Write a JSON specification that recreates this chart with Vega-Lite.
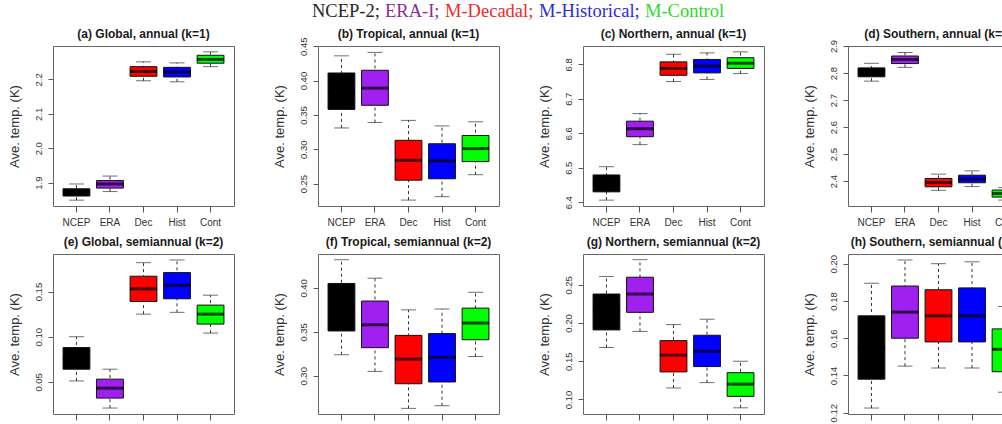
{
  "$schema": "https://vega.github.io/schema/vega-lite/v6.json",
  "padding": {"left": 7, "top": 2, "right": 0, "bottom": 0},
  "background": "white",
  "datasets": {
    "boxes": [
      {"panel": "a", "model": "NCEP", "lo": 1.849, "q1": 1.861, "med": 1.873, "q3": 1.882, "hi": 1.896},
      {"panel": "a", "model": "ERA", "lo": 1.874, "q1": 1.884, "med": 1.896, "q3": 1.906, "hi": 1.919},
      {"panel": "a", "model": "Dec", "lo": 2.196, "q1": 2.209, "med": 2.223, "q3": 2.237, "hi": 2.251},
      {"panel": "a", "model": "Hist", "lo": 2.193, "q1": 2.207, "med": 2.221, "q3": 2.235, "hi": 2.248},
      {"panel": "a", "model": "Cont", "lo": 2.237, "q1": 2.247, "med": 2.258, "q3": 2.270, "hi": 2.280},
      {"panel": "b", "model": "NCEP", "lo": 0.331, "q1": 0.358, "med": 0.383, "q3": 0.411, "hi": 0.436},
      {"panel": "b", "model": "ERA", "lo": 0.339, "q1": 0.364, "med": 0.389, "q3": 0.415, "hi": 0.441},
      {"panel": "b", "model": "Dec", "lo": 0.226, "q1": 0.255, "med": 0.284, "q3": 0.313, "hi": 0.342},
      {"panel": "b", "model": "Hist", "lo": 0.231, "q1": 0.257, "med": 0.283, "q3": 0.308, "hi": 0.334},
      {"panel": "b", "model": "Cont", "lo": 0.263, "q1": 0.282, "med": 0.301, "q3": 0.320, "hi": 0.340},
      {"panel": "c", "model": "NCEP", "lo": 6.406, "q1": 6.430, "med": 6.455, "q3": 6.479, "hi": 6.503},
      {"panel": "c", "model": "ERA", "lo": 6.567, "q1": 6.590, "med": 6.613, "q3": 6.635, "hi": 6.657},
      {"panel": "c", "model": "Dec", "lo": 6.750, "q1": 6.768, "med": 6.788, "q3": 6.807, "hi": 6.829},
      {"panel": "c", "model": "Hist", "lo": 6.756, "q1": 6.775, "med": 6.795, "q3": 6.814, "hi": 6.833},
      {"panel": "c", "model": "Cont", "lo": 6.773, "q1": 6.788, "med": 6.803, "q3": 6.819, "hi": 6.836},
      {"panel": "d", "model": "NCEP", "lo": 2.770, "q1": 2.786, "med": 2.805, "q3": 2.819, "hi": 2.836},
      {"panel": "d", "model": "ERA", "lo": 2.821, "q1": 2.835, "med": 2.850, "q3": 2.863, "hi": 2.876},
      {"panel": "d", "model": "Dec", "lo": 2.366, "q1": 2.379, "med": 2.395, "q3": 2.410, "hi": 2.426},
      {"panel": "d", "model": "Hist", "lo": 2.380, "q1": 2.394, "med": 2.407, "q3": 2.422, "hi": 2.438},
      {"panel": "d", "model": "Cont", "lo": 2.330, "q1": 2.341, "med": 2.354, "q3": 2.367, "hi": 2.376},
      {"panel": "e", "model": "NCEP", "lo": 0.051, "q1": 0.064, "med": 0.075, "q3": 0.088, "hi": 0.100},
      {"panel": "e", "model": "ERA", "lo": 0.021, "q1": 0.032, "med": 0.043, "q3": 0.053, "hi": 0.064},
      {"panel": "e", "model": "Dec", "lo": 0.125, "q1": 0.139, "med": 0.153, "q3": 0.167, "hi": 0.182},
      {"panel": "e", "model": "Hist", "lo": 0.127, "q1": 0.142, "med": 0.157, "q3": 0.171, "hi": 0.185},
      {"panel": "e", "model": "Cont", "lo": 0.104, "q1": 0.114, "med": 0.125, "q3": 0.135, "hi": 0.146},
      {"panel": "f", "model": "NCEP", "lo": 0.324, "q1": 0.351, "med": 0.378, "q3": 0.405, "hi": 0.432},
      {"panel": "f", "model": "ERA", "lo": 0.305, "q1": 0.332, "med": 0.358, "q3": 0.385, "hi": 0.411},
      {"panel": "f", "model": "Dec", "lo": 0.263, "q1": 0.291, "med": 0.319, "q3": 0.346, "hi": 0.375},
      {"panel": "f", "model": "Hist", "lo": 0.266, "q1": 0.293, "med": 0.321, "q3": 0.348, "hi": 0.376},
      {"panel": "f", "model": "Cont", "lo": 0.322, "q1": 0.341, "med": 0.360, "q3": 0.377, "hi": 0.395},
      {"panel": "g", "model": "NCEP", "lo": 0.168, "q1": 0.191, "med": 0.215, "q3": 0.238, "hi": 0.261},
      {"panel": "g", "model": "ERA", "lo": 0.189, "q1": 0.214, "med": 0.238, "q3": 0.260, "hi": 0.283},
      {"panel": "g", "model": "Dec", "lo": 0.115, "q1": 0.136, "med": 0.158, "q3": 0.177, "hi": 0.198},
      {"panel": "g", "model": "Hist", "lo": 0.122, "q1": 0.143, "med": 0.163, "q3": 0.184, "hi": 0.205},
      {"panel": "g", "model": "Cont", "lo": 0.089, "q1": 0.104, "med": 0.120, "q3": 0.135, "hi": 0.150},
      {"panel": "h", "model": "NCEP", "lo": 0.1225, "q1": 0.138, "med": 0.155, "q3": 0.172, "hi": 0.1895},
      {"panel": "h", "model": "ERA", "lo": 0.145, "q1": 0.160, "med": 0.174, "q3": 0.188, "hi": 0.202},
      {"panel": "h", "model": "Dec", "lo": 0.144, "q1": 0.158, "med": 0.172, "q3": 0.186, "hi": 0.200},
      {"panel": "h", "model": "Hist", "lo": 0.144, "q1": 0.158, "med": 0.172, "q3": 0.187, "hi": 0.201},
      {"panel": "h", "model": "Cont", "lo": 0.131, "q1": 0.142, "med": 0.154, "q3": 0.165, "hi": 0.177}
    ]
  },
  "data": {"name": "boxes"},
  "columns": 4,
  "bounds": "flush",
  "spacing": {"row": 48, "column": 84},
  "concat": [
    {
      "title": "(a) Global, annual (k=1)",
      "width": 181, "height": 160,
      "transform": [{"filter": "datum.panel === 'a'"}],
      "encoding": {"x": {"field": "model", "type": "nominal", "sort": ["NCEP", "ERA", "Dec", "Hist", "Cont"], "scale": {"paddingInner": 0.2, "paddingOuter": 0.3}, "axis": {"title": null}}},
      "layer": [
        {"mark": {"type": "rule", "strokeDash": [3, 3], "color": "#333"}, "encoding": {"y": {"field": "lo", "type": "quantitative", "title": "Ave. temp. (K)", "scale": {"domain": [1.832, 2.297], "nice": false, "zero": false}, "axis": {"values": [1.9, 2.0, 2.1, 2.2], "tickCount": 10, "format": ".1f", "labelOverlap": false}}, "y2": {"field": "hi"}}},
        {"mark": {"type": "tick", "size": 15, "thickness": 1, "color": "#333"}, "encoding": {"y": {"field": "lo", "type": "quantitative", "title": "Ave. temp. (K)"}}},
        {"mark": {"type": "tick", "size": 15, "thickness": 1, "color": "#333"}, "encoding": {"y": {"field": "hi", "type": "quantitative", "title": "Ave. temp. (K)"}}},
        {"mark": {"type": "bar", "stroke": "#111", "strokeWidth": 1}, "encoding": {"y": {"field": "q1", "type": "quantitative", "title": "Ave. temp. (K)"}, "y2": {"field": "q3"}, "color": {"field": "model", "type": "nominal", "scale": {"domain": ["NCEP", "ERA", "Dec", "Hist", "Cont"], "range": ["#000000", "#A020F0", "#FF0000", "#0000FF", "#00FF00"]}, "legend": {"title": null, "labelExpr": "datum.value === 'NCEP' ? 'NCEP-2;' : datum.value === 'ERA' ? 'ERA-I;' : datum.value === 'Dec' ? 'M-Decadal;' : datum.value === 'Hist' ? 'M-Historical;' : 'M-Control'", "labelColor": {"expr": "datum.value === 'NCEP' ? '#262626' : datum.value === 'ERA' ? '#8A2D9A' : datum.value === 'Dec' ? '#EE2A2A' : datum.value === 'Hist' ? '#2A2ADD' : '#2ED82E'"}}}}},
        {"mark": {"type": "tick", "size": 27, "thickness": 3, "color": "#000"}, "encoding": {"y": {"field": "med", "type": "quantitative", "title": "Ave. temp. (K)"}}}
      ]
    },
    {
      "title": {"text": "(b) Tropical, annual (k=1)", "offset": -4.3},
      "width": 181, "height": 160,
      "transform": [{"filter": "datum.panel === 'b'"}],
      "encoding": {"x": {"field": "model", "type": "nominal", "sort": ["NCEP", "ERA", "Dec", "Hist", "Cont"], "scale": {"paddingInner": 0.2, "paddingOuter": 0.3}, "axis": {"title": null}}},
      "layer": [
        {"mark": {"type": "rule", "strokeDash": [3, 3], "color": "#333"}, "encoding": {"y": {"field": "lo", "type": "quantitative", "title": "Ave. temp. (K)", "scale": {"domain": [0.2174, 0.4503], "nice": false, "zero": false}, "axis": {"values": [0.25, 0.30, 0.35, 0.40, 0.45], "tickCount": 10, "format": ".2f", "labelOverlap": false}}, "y2": {"field": "hi"}}},
        {"mark": {"type": "tick", "size": 15, "thickness": 1, "color": "#333"}, "encoding": {"y": {"field": "lo", "type": "quantitative", "title": "Ave. temp. (K)"}}},
        {"mark": {"type": "tick", "size": 15, "thickness": 1, "color": "#333"}, "encoding": {"y": {"field": "hi", "type": "quantitative", "title": "Ave. temp. (K)"}}},
        {"mark": {"type": "bar", "stroke": "#111", "strokeWidth": 1}, "encoding": {"y": {"field": "q1", "type": "quantitative", "title": "Ave. temp. (K)"}, "y2": {"field": "q3"}, "color": {"field": "model", "type": "nominal", "scale": {"domain": ["NCEP", "ERA", "Dec", "Hist", "Cont"], "range": ["#000000", "#A020F0", "#FF0000", "#0000FF", "#00FF00"]}, "legend": {"title": null, "labelExpr": "datum.value === 'NCEP' ? 'NCEP-2;' : datum.value === 'ERA' ? 'ERA-I;' : datum.value === 'Dec' ? 'M-Decadal;' : datum.value === 'Hist' ? 'M-Historical;' : 'M-Control'", "labelColor": {"expr": "datum.value === 'NCEP' ? '#262626' : datum.value === 'ERA' ? '#8A2D9A' : datum.value === 'Dec' ? '#EE2A2A' : datum.value === 'Hist' ? '#2A2ADD' : '#2ED82E'"}}}}},
        {"mark": {"type": "tick", "size": 27, "thickness": 3, "color": "#000"}, "encoding": {"y": {"field": "med", "type": "quantitative", "title": "Ave. temp. (K)"}}}
      ]
    },
    {
      "title": "(c) Northern, annual (k=1)",
      "width": 181, "height": 160,
      "transform": [{"filter": "datum.panel === 'c'"}],
      "encoding": {"x": {"field": "model", "type": "nominal", "sort": ["NCEP", "ERA", "Dec", "Hist", "Cont"], "scale": {"paddingInner": 0.2, "paddingOuter": 0.3}, "axis": {"title": null}}},
      "layer": [
        {"mark": {"type": "rule", "strokeDash": [3, 3], "color": "#333"}, "encoding": {"y": {"field": "lo", "type": "quantitative", "title": "Ave. temp. (K)", "scale": {"domain": [6.389, 6.853], "nice": false, "zero": false}, "axis": {"values": [6.4, 6.5, 6.6, 6.7, 6.8], "tickCount": 10, "format": ".1f", "labelOverlap": false}}, "y2": {"field": "hi"}}},
        {"mark": {"type": "tick", "size": 15, "thickness": 1, "color": "#333"}, "encoding": {"y": {"field": "lo", "type": "quantitative", "title": "Ave. temp. (K)"}}},
        {"mark": {"type": "tick", "size": 15, "thickness": 1, "color": "#333"}, "encoding": {"y": {"field": "hi", "type": "quantitative", "title": "Ave. temp. (K)"}}},
        {"mark": {"type": "bar", "stroke": "#111", "strokeWidth": 1}, "encoding": {"y": {"field": "q1", "type": "quantitative", "title": "Ave. temp. (K)"}, "y2": {"field": "q3"}, "color": {"field": "model", "type": "nominal", "scale": {"domain": ["NCEP", "ERA", "Dec", "Hist", "Cont"], "range": ["#000000", "#A020F0", "#FF0000", "#0000FF", "#00FF00"]}, "legend": {"title": null, "labelExpr": "datum.value === 'NCEP' ? 'NCEP-2;' : datum.value === 'ERA' ? 'ERA-I;' : datum.value === 'Dec' ? 'M-Decadal;' : datum.value === 'Hist' ? 'M-Historical;' : 'M-Control'", "labelColor": {"expr": "datum.value === 'NCEP' ? '#262626' : datum.value === 'ERA' ? '#8A2D9A' : datum.value === 'Dec' ? '#EE2A2A' : datum.value === 'Hist' ? '#2A2ADD' : '#2ED82E'"}}}}},
        {"mark": {"type": "tick", "size": 27, "thickness": 3, "color": "#000"}, "encoding": {"y": {"field": "med", "type": "quantitative", "title": "Ave. temp. (K)"}}}
      ]
    },
    {
      "title": {"text": "(d) Southern, annual (k=1)", "offset": -1.6},
      "width": 181, "height": 160,
      "transform": [{"filter": "datum.panel === 'd'"}],
      "encoding": {"x": {"field": "model", "type": "nominal", "sort": ["NCEP", "ERA", "Dec", "Hist", "Cont"], "scale": {"paddingInner": 0.2, "paddingOuter": 0.3}, "axis": {"title": null}}},
      "layer": [
        {"mark": {"type": "rule", "strokeDash": [3, 3], "color": "#333"}, "encoding": {"y": {"field": "lo", "type": "quantitative", "title": "Ave. temp. (K)", "scale": {"domain": [2.308, 2.9], "nice": false, "zero": false}, "axis": {"values": [2.4, 2.5, 2.6, 2.7, 2.8, 2.9], "tickCount": 10, "format": ".1f", "labelOverlap": false}}, "y2": {"field": "hi"}}},
        {"mark": {"type": "tick", "size": 15, "thickness": 1, "color": "#333"}, "encoding": {"y": {"field": "lo", "type": "quantitative", "title": "Ave. temp. (K)"}}},
        {"mark": {"type": "tick", "size": 15, "thickness": 1, "color": "#333"}, "encoding": {"y": {"field": "hi", "type": "quantitative", "title": "Ave. temp. (K)"}}},
        {"mark": {"type": "bar", "stroke": "#111", "strokeWidth": 1}, "encoding": {"y": {"field": "q1", "type": "quantitative", "title": "Ave. temp. (K)"}, "y2": {"field": "q3"}, "color": {"field": "model", "type": "nominal", "scale": {"domain": ["NCEP", "ERA", "Dec", "Hist", "Cont"], "range": ["#000000", "#A020F0", "#FF0000", "#0000FF", "#00FF00"]}, "legend": {"title": null, "labelExpr": "datum.value === 'NCEP' ? 'NCEP-2;' : datum.value === 'ERA' ? 'ERA-I;' : datum.value === 'Dec' ? 'M-Decadal;' : datum.value === 'Hist' ? 'M-Historical;' : 'M-Control'", "labelColor": {"expr": "datum.value === 'NCEP' ? '#262626' : datum.value === 'ERA' ? '#8A2D9A' : datum.value === 'Dec' ? '#EE2A2A' : datum.value === 'Hist' ? '#2A2ADD' : '#2ED82E'"}}}}},
        {"mark": {"type": "tick", "size": 27, "thickness": 3, "color": "#000"}, "encoding": {"y": {"field": "med", "type": "quantitative", "title": "Ave. temp. (K)"}}}
      ]
    },
    {
      "title": "(e) Global, semiannual (k=2)",
      "width": 181, "height": 160,
      "transform": [{"filter": "datum.panel === 'e'"}],
      "encoding": {"x": {"field": "model", "type": "nominal", "sort": ["NCEP", "ERA", "Dec", "Hist", "Cont"], "scale": {"paddingInner": 0.2, "paddingOuter": 0.3}, "axis": {"title": null}}},
      "layer": [
        {"mark": {"type": "rule", "strokeDash": [3, 3], "color": "#333"}, "encoding": {"y": {"field": "lo", "type": "quantitative", "title": "Ave. temp. (K)", "scale": {"domain": [0.0144, 0.1916], "nice": false, "zero": false}, "axis": {"values": [0.05, 0.10, 0.15], "tickCount": 10, "format": ".2f", "labelOverlap": false}}, "y2": {"field": "hi"}}},
        {"mark": {"type": "tick", "size": 15, "thickness": 1, "color": "#333"}, "encoding": {"y": {"field": "lo", "type": "quantitative", "title": "Ave. temp. (K)"}}},
        {"mark": {"type": "tick", "size": 15, "thickness": 1, "color": "#333"}, "encoding": {"y": {"field": "hi", "type": "quantitative", "title": "Ave. temp. (K)"}}},
        {"mark": {"type": "bar", "stroke": "#111", "strokeWidth": 1}, "encoding": {"y": {"field": "q1", "type": "quantitative", "title": "Ave. temp. (K)"}, "y2": {"field": "q3"}, "color": {"field": "model", "type": "nominal", "scale": {"domain": ["NCEP", "ERA", "Dec", "Hist", "Cont"], "range": ["#000000", "#A020F0", "#FF0000", "#0000FF", "#00FF00"]}, "legend": {"title": null, "labelExpr": "datum.value === 'NCEP' ? 'NCEP-2;' : datum.value === 'ERA' ? 'ERA-I;' : datum.value === 'Dec' ? 'M-Decadal;' : datum.value === 'Hist' ? 'M-Historical;' : 'M-Control'", "labelColor": {"expr": "datum.value === 'NCEP' ? '#262626' : datum.value === 'ERA' ? '#8A2D9A' : datum.value === 'Dec' ? '#EE2A2A' : datum.value === 'Hist' ? '#2A2ADD' : '#2ED82E'"}}}}},
        {"mark": {"type": "tick", "size": 27, "thickness": 3, "color": "#000"}, "encoding": {"y": {"field": "med", "type": "quantitative", "title": "Ave. temp. (K)"}}}
      ]
    },
    {
      "title": "(f) Tropical, semiannual (k=2)",
      "width": 181, "height": 160,
      "transform": [{"filter": "datum.panel === 'f'"}],
      "encoding": {"x": {"field": "model", "type": "nominal", "sort": ["NCEP", "ERA", "Dec", "Hist", "Cont"], "scale": {"paddingInner": 0.2, "paddingOuter": 0.3}, "axis": {"title": null}}},
      "layer": [
        {"mark": {"type": "rule", "strokeDash": [3, 3], "color": "#333"}, "encoding": {"y": {"field": "lo", "type": "quantitative", "title": "Ave. temp. (K)", "scale": {"domain": [0.2566, 0.4385], "nice": false, "zero": false}, "axis": {"values": [0.30, 0.35, 0.40], "tickCount": 10, "format": ".2f", "labelOverlap": false}}, "y2": {"field": "hi"}}},
        {"mark": {"type": "tick", "size": 15, "thickness": 1, "color": "#333"}, "encoding": {"y": {"field": "lo", "type": "quantitative", "title": "Ave. temp. (K)"}}},
        {"mark": {"type": "tick", "size": 15, "thickness": 1, "color": "#333"}, "encoding": {"y": {"field": "hi", "type": "quantitative", "title": "Ave. temp. (K)"}}},
        {"mark": {"type": "bar", "stroke": "#111", "strokeWidth": 1}, "encoding": {"y": {"field": "q1", "type": "quantitative", "title": "Ave. temp. (K)"}, "y2": {"field": "q3"}, "color": {"field": "model", "type": "nominal", "scale": {"domain": ["NCEP", "ERA", "Dec", "Hist", "Cont"], "range": ["#000000", "#A020F0", "#FF0000", "#0000FF", "#00FF00"]}, "legend": {"title": null, "labelExpr": "datum.value === 'NCEP' ? 'NCEP-2;' : datum.value === 'ERA' ? 'ERA-I;' : datum.value === 'Dec' ? 'M-Decadal;' : datum.value === 'Hist' ? 'M-Historical;' : 'M-Control'", "labelColor": {"expr": "datum.value === 'NCEP' ? '#262626' : datum.value === 'ERA' ? '#8A2D9A' : datum.value === 'Dec' ? '#EE2A2A' : datum.value === 'Hist' ? '#2A2ADD' : '#2ED82E'"}}}}},
        {"mark": {"type": "tick", "size": 27, "thickness": 3, "color": "#000"}, "encoding": {"y": {"field": "med", "type": "quantitative", "title": "Ave. temp. (K)"}}}
      ]
    },
    {
      "title": "(g) Northern, semiannual (k=2)",
      "width": 181, "height": 160,
      "transform": [{"filter": "datum.panel === 'g'"}],
      "encoding": {"x": {"field": "model", "type": "nominal", "sort": ["NCEP", "ERA", "Dec", "Hist", "Cont"], "scale": {"paddingInner": 0.2, "paddingOuter": 0.3}, "axis": {"title": null}}},
      "layer": [
        {"mark": {"type": "rule", "strokeDash": [3, 3], "color": "#333"}, "encoding": {"y": {"field": "lo", "type": "quantitative", "title": "Ave. temp. (K)", "scale": {"domain": [0.0809, 0.2904], "nice": false, "zero": false}, "axis": {"values": [0.10, 0.15, 0.20, 0.25], "tickCount": 10, "format": ".2f", "labelOverlap": false}}, "y2": {"field": "hi"}}},
        {"mark": {"type": "tick", "size": 15, "thickness": 1, "color": "#333"}, "encoding": {"y": {"field": "lo", "type": "quantitative", "title": "Ave. temp. (K)"}}},
        {"mark": {"type": "tick", "size": 15, "thickness": 1, "color": "#333"}, "encoding": {"y": {"field": "hi", "type": "quantitative", "title": "Ave. temp. (K)"}}},
        {"mark": {"type": "bar", "stroke": "#111", "strokeWidth": 1}, "encoding": {"y": {"field": "q1", "type": "quantitative", "title": "Ave. temp. (K)"}, "y2": {"field": "q3"}, "color": {"field": "model", "type": "nominal", "scale": {"domain": ["NCEP", "ERA", "Dec", "Hist", "Cont"], "range": ["#000000", "#A020F0", "#FF0000", "#0000FF", "#00FF00"]}, "legend": {"title": null, "labelExpr": "datum.value === 'NCEP' ? 'NCEP-2;' : datum.value === 'ERA' ? 'ERA-I;' : datum.value === 'Dec' ? 'M-Decadal;' : datum.value === 'Hist' ? 'M-Historical;' : 'M-Control'", "labelColor": {"expr": "datum.value === 'NCEP' ? '#262626' : datum.value === 'ERA' ? '#8A2D9A' : datum.value === 'Dec' ? '#EE2A2A' : datum.value === 'Hist' ? '#2A2ADD' : '#2ED82E'"}}}}},
        {"mark": {"type": "tick", "size": 27, "thickness": 3, "color": "#000"}, "encoding": {"y": {"field": "med", "type": "quantitative", "title": "Ave. temp. (K)"}}}
      ]
    },
    {
      "title": "(h) Southern, semiannual (k=2)",
      "width": 181, "height": 160,
      "transform": [{"filter": "datum.panel === 'h'"}],
      "encoding": {"x": {"field": "model", "type": "nominal", "sort": ["NCEP", "ERA", "Dec", "Hist", "Cont"], "scale": {"paddingInner": 0.2, "paddingOuter": 0.3}, "axis": {"title": null}}},
      "layer": [
        {"mark": {"type": "rule", "strokeDash": [3, 3], "color": "#333"}, "encoding": {"y": {"field": "lo", "type": "quantitative", "title": "Ave. temp. (K)", "scale": {"domain": [0.1193, 0.2052], "nice": false, "zero": false}, "axis": {"values": [0.12, 0.14, 0.16, 0.18, 0.20], "tickCount": 10, "format": ".2f", "labelOverlap": false}}, "y2": {"field": "hi"}}},
        {"mark": {"type": "tick", "size": 15, "thickness": 1, "color": "#333"}, "encoding": {"y": {"field": "lo", "type": "quantitative", "title": "Ave. temp. (K)"}}},
        {"mark": {"type": "tick", "size": 15, "thickness": 1, "color": "#333"}, "encoding": {"y": {"field": "hi", "type": "quantitative", "title": "Ave. temp. (K)"}}},
        {"mark": {"type": "bar", "stroke": "#111", "strokeWidth": 1}, "encoding": {"y": {"field": "q1", "type": "quantitative", "title": "Ave. temp. (K)"}, "y2": {"field": "q3"}, "color": {"field": "model", "type": "nominal", "scale": {"domain": ["NCEP", "ERA", "Dec", "Hist", "Cont"], "range": ["#000000", "#A020F0", "#FF0000", "#0000FF", "#00FF00"]}, "legend": {"title": null, "labelExpr": "datum.value === 'NCEP' ? 'NCEP-2;' : datum.value === 'ERA' ? 'ERA-I;' : datum.value === 'Dec' ? 'M-Decadal;' : datum.value === 'Hist' ? 'M-Historical;' : 'M-Control'", "labelColor": {"expr": "datum.value === 'NCEP' ? '#262626' : datum.value === 'ERA' ? '#8A2D9A' : datum.value === 'Dec' ? '#EE2A2A' : datum.value === 'Hist' ? '#2A2ADD' : '#2ED82E'"}}}}},
        {"mark": {"type": "tick", "size": 27, "thickness": 3, "color": "#000"}, "encoding": {"y": {"field": "med", "type": "quantitative", "title": "Ave. temp. (K)"}}}
      ]
    }
  ],
  "config": {
    "font": "Liberation Sans",
    "view": {"stroke": "#666", "strokeWidth": 1},
    "title": {"font": "Liberation Sans", "fontSize": 12, "fontWeight": "bold", "color": "#1a1a1a", "offset": 5, "frame": "group", "anchor": "middle"},
    "axis": {"labelFont": "Liberation Sans", "labelColor": "#333", "tickColor": "#555", "domain": false, "grid": false, "titleFont": "Liberation Sans", "titleFontWeight": "normal", "titleColor": "#333", "labelOverlap": false},
    "axisY": {"labelAngle": -90, "labelAlign": "center", "labelBaseline": "bottom", "labelFontSize": 9.5, "tickSize": 5, "labelPadding": 5, "titleFontSize": 13, "titlePadding": 12, "tickCount": 10},
    "axisX": {"labelAngle": 0, "labelFontSize": 10, "tickSize": 6, "labelPadding": 5},
    "legend": {"orient": "top", "direction": "horizontal", "symbolSize": 0, "symbolOpacity": 0, "symbolStrokeWidth": 0, "labelOffset": -18.5, "columnPadding": 5, "labelFont": "Liberation Serif", "labelFontSize": 18.5, "labelLimit": 0, "offset": 6, "padding": 0, "layout": {"top": {"anchor": "middle"}}}
  }
}
